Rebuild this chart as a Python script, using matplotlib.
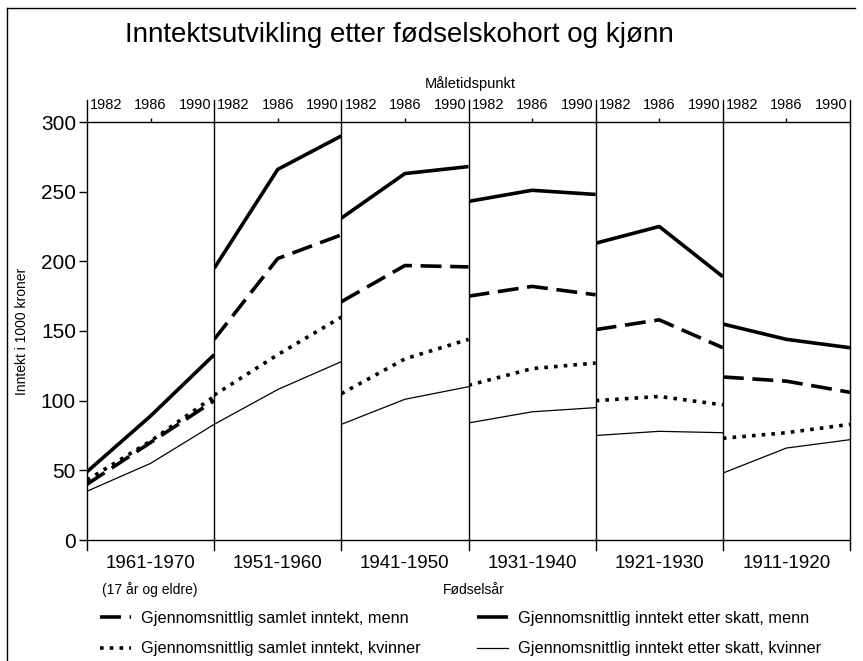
import matplotlib
matplotlib.use("Agg")
import matplotlib.pyplot as plt
import matplotlib.transforms as mtransforms
from matplotlib.lines import Line2D

plt.rcParams['font.family'] = ['Liberation Sans', 'DejaVu Sans']

# ---- data ----
years = [1982, 1986, 1990]
cohorts = ["1961-1970", "1951-1960", "1941-1950", "1931-1940", "1921-1930", "1911-1920"]
# thick solid line (per legend: "etter skatt, menn")
solid_menn = [[49, 89, 133], [195, 266, 290], [231, 263, 268],
              [243, 251, 248], [213, 225, 189], [155, 144, 138]]
# long dashed line (per legend: "samlet inntekt, menn")
dashed_menn = [[40, 70, 100], [144, 202, 219], [171, 197, 196],
               [175, 182, 176], [151, 158, 138], [117, 114, 106]]
# dotted line ("samlet inntekt, kvinner")
dotted_kvinner = [[43, 71, 103], [104, 133, 160], [105, 130, 144],
                  [111, 123, 127], [100, 103, 97], [73, 77, 83]]
# thin solid line ("etter skatt, kvinner")
thin_kvinner = [[35, 55, 83], [83, 108, 128], [83, 101, 110],
                [84, 92, 95], [75, 78, 77], [48, 66, 72]]

yticks = [0, 50, 100, 150, 200, 250, 300]
lbl_dashed = "Gjennomsnittlig samlet inntekt, menn"
lbl_dotted = "Gjennomsnittlig samlet inntekt, kvinner"
lbl_solid = "Gjennomsnittlig inntekt etter skatt, menn"
lbl_thin = "Gjennomsnittlig inntekt etter skatt, kvinner"

W, H = 863, 661
fig = plt.figure(figsize=(W / 100, H / 100), dpi=100)
fig.patch.set_facecolor("white")

left, right = 87 / W, 850 / W
bottom, top = 1 - 540 / H, 1 - 122 / H
gs = fig.add_gridspec(1, 6, left=left, right=right, bottom=bottom, top=top, wspace=0)

st_solid = dict(color="black", lw=2.6, solid_capstyle="butt")
st_dashed = dict(color="black", lw=2.6, linestyle=(0, (5.8, 2.4)))
st_dotted = dict(color="black", lw=2.6, linestyle=(0, (1.0, 1.7)))
st_thin = dict(color="black", lw=0.9)

ax_h_px = 540 - 122
for i, c in enumerate(cohorts):
    ax = fig.add_subplot(gs[0, i])
    ax.set_xlim(1982, 1990)
    ax.set_ylim(0, 300)
    ax.plot(years, thin_kvinner[i], **st_thin)
    ax.plot(years, dotted_kvinner[i], **st_dotted)
    ax.plot(years, dashed_menn[i], **st_dashed)
    ax.plot(years, solid_menn[i], **st_solid)
    for s in ["left", "right"]:
        ax.spines[s].set_visible(False)
    for s in ["top", "bottom"]:
        ax.spines[s].set_linewidth(1.0)
    # separators extending above and below
    ax.axvline(1982, ymin=-10 / ax_h_px, ymax=1 + 22 / ax_h_px, color="black", lw=1.0, clip_on=False)
    if i == len(cohorts) - 1:
        ax.axvline(1990, ymin=-10 / ax_h_px, ymax=1 + 22 / ax_h_px, color="black", lw=1.0, clip_on=False)
    ax.set_xticks([1986])
    ax.tick_params(axis="x", bottom=False, top=True, labelbottom=False, labeltop=False,
                   length=3, width=1.0, direction="out")
    if i == 0:
        ax.set_yticks(yticks)
        ax.set_yticklabels([str(v) for v in yticks], fontsize=15)
        ax.tick_params(axis="y", length=6, width=1.0, pad=2)
    else:
        ax.set_yticks([])
    trans = mtransforms.blended_transform_factory(ax.transData, ax.transAxes)
    toff = mtransforms.offset_copy(trans, fig=fig, x=0, y=17, units="dots")
    ax.text(1982.2, 1.0, "1982", transform=toff, ha="left", va="center", fontsize=10.5)
    ax.text(1986, 1.0, "1986", transform=toff, ha="center", va="center", fontsize=10.5)
    ax.text(1989.85, 1.0, "1990", transform=toff, ha="right", va="center", fontsize=10.5)
    ax.text(0.5, 1 - 563 / H, c, transform=mtransforms.blended_transform_factory(ax.transAxes, fig.transFigure),
            ha="center", va="center", fontsize=13.5)

fig.text(150 / W, 1 - 590 / H, "(17 år og eldre)", ha="center", va="center", fontsize=10)
fig.text(474 / W, 1 - 590 / H, "Fødselsår", ha="center", va="center", fontsize=10)
fig.text(470 / W, 1 - 84 / H, "Måletidspunkt", ha="center", va="center", fontsize=10.5)
fig.text(22 / W, 1 - 331 / H, "Inntekt i 1000 kroner", ha="center", va="center",
         rotation=90, fontsize=10)
fig.text(125 / W, 1 - 35 / H, "Inntektsutvikling etter fødselskohort og kjønn",
         ha="left", va="center", fontsize=20)

# border (top and left)
fig.add_artist(Line2D([7 / W, 7 / W], [0, 1 - 8 / H], transform=fig.transFigure, color="black", lw=1.0))
fig.add_artist(Line2D([7 / W, 855 / W], [1 - 8 / H, 1 - 8 / H], transform=fig.transFigure, color="black", lw=1.0))

handles = [Line2D([], [], **st_dashed), Line2D([], [], **st_dotted),
           Line2D([], [], **st_solid), Line2D([], [], **st_thin)]
labels = [lbl_dashed, lbl_dotted, lbl_solid, lbl_thin]
fig.legend(handles, labels, ncol=2, loc="upper left", bbox_to_anchor=(100 / W, 1 - 611 / H),
           frameon=False, fontsize=11.7, handlelength=1.9, handletextpad=0.6,
           columnspacing=3.5, labelspacing=0.95, borderaxespad=0, borderpad=0)

fig.savefig("out.png", dpi=100, facecolor="white")
